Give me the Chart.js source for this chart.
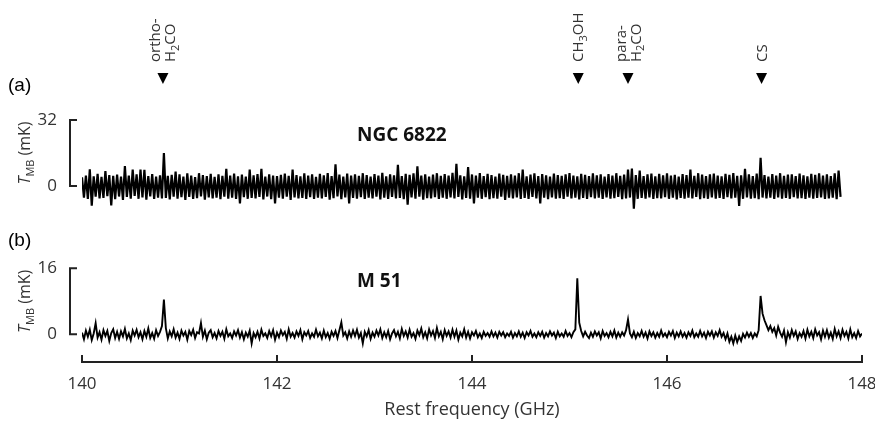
<!DOCTYPE html>
<html><head><meta charset="utf-8">
<script src="https://cdn.jsdelivr.net/npm/chart.js@4/dist/chart.umd.min.js"></script>
<style>
html,body{margin:0;padding:0;background:#fff;}
#wrap{position:relative;width:875px;height:424px;overflow:hidden;background:#fff;}
#ca{position:absolute;left:0;top:0;}
#cb{position:absolute;left:0;top:215px;}
</style></head><body>
<div id="wrap"><canvas id="ca" width="875" height="215"></canvas><canvas id="cb" width="875" height="209"></canvas></div>
<script>
// channel grid of the spectra (GHz)
const FREQ_START = 140.0;
const FREQ_STEP = 0.02;

// (a) NGC 6822 spectrum, T_MB in mK (140.00 ... 147.78 GHz)
const ngc6822 = [
4.2,-5.6,5.1,-6.3,8.1,-9.5,4.7,-5.2,5.9,-6.0,
4.4,-5.8,7.2,-4.9,5.3,-9.4,4.9,-6.4,5.5,-5.1,
4.6,-6.7,9.7,-5.3,5.0,-6.1,8.0,-4.8,5.6,-6.2,
8.0,-5.5,7.8,-6.6,4.8,-5.0,5.8,-6.3,4.5,-5.7,
5.2,-6.0,16.0,-5.8,4.9,-6.5,5.4,-5.2,7.0,-6.1,
5.7,-5.4,4.6,-6.8,6.1,-5.3,5.0,-6.2,4.3,-5.9,
6.2,-5.1,5.3,-6.6,4.8,-5.5,5.9,-6.0,4.4,-5.6,
5.6,-6.4,4.9,-5.2,8.3,-6.1,5.1,-5.7,6.0,-6.3,
4.7,-8.5,5.5,-5.4,4.5,-6.2,8.0,-5.8,5.2,-6.0,
5.8,-5.3,8.3,-6.5,4.6,-5.1,5.7,-6.4,5.0,-8.5,
4.8,-5.6,5.4,-6.1,6.0,-5.2,4.9,-6.7,8.0,-5.5,
5.3,-6.0,4.7,-5.8,6.1,-6.3,5.0,-5.4,5.6,-6.2,
4.4,-5.7,5.9,-6.0,5.2,-5.3,6.3,-6.6,4.8,-5.9,
10.5,-5.1,5.5,-6.4,4.6,-5.5,6.0,-8.5,5.1,-5.8,
5.7,-6.1,4.9,-5.4,6.2,-6.3,5.3,-5.6,4.5,-6.0,
5.8,-5.2,5.0,-6.5,6.4,-5.7,4.7,-6.2,5.6,-5.3,
5.2,-6.0,10.3,-5.8,4.8,-6.4,5.9,-9.0,5.4,-5.5,
6.1,-6.1,9.5,-5.2,5.0,-6.6,5.7,-5.9,4.6,-6.0,
5.5,-5.4,6.2,-6.3,4.9,-5.7,5.8,-6.2,5.1,-5.5,
6.4,-6.0,10.8,-5.3,5.2,-6.5,4.7,-5.8,9.2,-6.1,
5.6,-8.5,5.0,-5.6,6.3,-6.2,4.8,-5.4,5.9,-6.4,
5.3,-5.9,4.6,-6.1,6.0,-5.2,5.4,-6.7,4.9,-5.6,
5.7,-6.0,5.1,-5.5,6.2,-6.3,8.0,-5.8,4.7,-6.2,
5.5,-5.3,6.1,-6.0,4.8,-8.5,5.8,-5.7,5.2,-6.4,
4.6,-5.5,6.0,-6.1,5.3,-5.9,4.9,-6.3,5.7,-5.2,
6.3,-6.0,5.0,-5.6,4.7,-6.5,5.9,-5.8,5.4,-6.2,
4.8,-5.4,6.1,-6.0,5.2,-5.7,5.6,-6.3,4.5,-5.5,
5.8,-6.1,5.1,-5.9,6.2,-5.3,4.9,-6.4,5.5,-6.0,
8.0,-5.6,8.5,-11.0,5.3,-6.2,7.5,-5.8,4.8,-6.1,
5.6,-5.5,6.0,-6.3,4.7,-5.9,5.9,-6.0,5.2,-5.4,
6.1,-6.2,5.0,-5.7,5.4,-6.5,4.6,-5.8,5.8,-6.1,
5.3,-5.6,8.0,-6.0,4.9,-5.3,6.2,-6.4,5.5,-5.9,
4.8,-6.2,5.7,-5.5,6.0,-6.1,5.1,-5.8,4.7,-6.3,
5.9,-5.4,5.4,-6.0,6.3,-5.7,4.9,-9.7,5.2,-6.2,
8.3,-5.5,5.6,-6.1,4.8,-5.9,6.0,-6.4,13.7,-5.6,
5.3,-6.0,4.6,-5.7,5.8,-6.3,5.1,-5.5,6.2,-6.1,
4.9,-5.8,5.5,-6.2,5.7,-5.4,4.8,-6.0,6.0,-5.9,
5.2,-6.3,4.7,-5.6,5.9,-6.1,5.4,-5.8,6.1,-5.5,
5.0,-6.2,5.6,-6.0,4.8,-5.7,6.2,-6.4,7.5,-5.3
];

// (b) M 51 spectrum, T_MB in mK (140.00 ... 148.00 GHz)
const m51 = [
0.4,-1.2,0.9,-0.6,1.1,-1.4,0.2,2.7,-0.8,0.5,
-1.3,1.0,-0.4,0.8,-1.6,0.3,1.2,-0.9,0.6,-1.1,
0.7,-0.5,1.3,-1.0,0.2,-1.4,0.9,-0.3,1.1,-0.7,
0.5,-1.2,0.8,-0.6,1.4,-0.9,0.3,-1.1,1.0,-0.4,
0.6,2.0,8.4,1.5,-1.0,0.7,-0.5,1.2,-0.8,0.4,
-1.1,0.9,-0.3,0.6,-1.3,0.8,-0.2,1.1,-0.9,0.5,
0.2,2.7,-0.6,0.9,-1.2,0.4,1.0,-0.7,0.3,-1.0,
0.8,-0.4,0.6,-1.1,1.2,-0.5,0.2,-0.9,0.7,-0.3,
1.0,-0.8,0.5,-1.2,0.4,-0.6,0.9,-2.2,0.3,-0.7,
0.6,-1.0,1.1,-0.4,0.2,-0.9,0.8,-0.5,1.0,-1.3,
0.4,-0.7,0.9,-0.2,0.6,-1.1,1.2,-0.6,0.3,-0.8,
0.7,-0.4,1.0,-1.2,0.5,-0.3,0.8,-0.9,0.2,-0.6,
1.1,-0.5,0.4,-1.0,0.9,-0.7,0.3,-1.1,0.6,-0.4,
0.8,-0.9,1.0,2.9,-0.3,0.5,-1.0,0.7,-0.6,0.9,
-0.4,1.1,-0.8,0.3,-2.2,0.6,-0.5,1.0,-1.1,0.4,
-0.6,0.9,-0.3,1.2,-0.9,0.5,-0.7,0.8,-1.2,0.2,
1.0,-0.5,0.6,-1.0,1.3,-0.4,0.7,-0.8,1.1,-0.6,
0.3,-1.1,0.9,-0.2,1.4,-0.7,0.5,-1.0,1.2,-0.3,
0.8,-0.9,1.5,-0.5,0.6,-1.2,1.0,-0.4,0.7,-0.8,
1.1,-0.6,0.9,-1.3,0.4,-0.5,1.2,-0.8,0.6,-1.0,
0.5,-0.3,0.8,-0.7,0.2,-0.9,0.6,-0.4,0.3,-0.6,
0.7,-0.5,0.4,-0.8,0.6,-0.3,0.5,-0.7,0.2,-0.4,
0.6,-0.8,0.3,-0.5,0.7,-0.6,0.4,-0.9,0.5,-0.3,
0.8,-0.6,0.2,-0.7,0.5,-0.4,0.6,-0.8,0.3,-0.5,
0.7,-0.3,0.4,-0.9,0.6,-0.5,0.2,-0.6,0.8,-0.4,
0.3,-0.7,0.5,1.2,13.6,2.8,0.8,-0.5,0.6,-0.3,
-0.9,0.4,-0.6,0.7,-0.3,0.5,-1.0,0.8,-0.4,0.3,
-0.7,0.6,-0.5,0.9,-0.8,0.4,-0.6,0.5,-0.3,1.0,
3.6,0.2,-0.7,0.6,-0.9,0.3,-0.5,0.8,-0.6,0.4,
-1.0,0.7,-0.4,0.5,-0.8,0.3,-0.6,0.9,-0.5,0.2,
-0.7,0.6,-0.3,0.8,-0.9,0.4,-0.5,0.7,-0.6,0.3,
-0.8,0.5,-0.4,0.9,-0.7,0.2,-0.6,0.8,-0.5,0.4,
-0.9,0.6,-0.3,0.7,-0.8,0.5,-0.4,1.0,-0.6,0.3,
-1.2,0.2,-1.8,-0.6,-2.2,-0.3,-1.9,-0.5,-1.6,0.1,
-0.8,0.4,-0.6,0.3,-0.9,0.2,-0.5,1.0,9.3,5.0,
3.4,2.2,1.0,2.0,0.6,1.5,-0.3,1.8,0.4,-0.6,
0.9,-1.9,0.5,-0.8,1.0,-0.4,0.7,-1.1,0.3,-0.6,
0.8,-1.0,1.1,-0.5,0.6,-0.9,1.2,-0.3,0.5,-1.2,
0.9,-0.6,1.0,-0.8,0.4,-1.1,1.3,-0.5,0.7,-0.9,
1.1,-0.4,0.6,-1.0,1.2,-0.7,0.3,-0.9,0.8,-0.5,
0.2
];

// tick labels
const freqTicks = [140, 142, 144, 146, 148];
const ngcTicks = [0, 32];
const m51Ticks = [0, 16];

// identified lines (rest frequency, GHz) and their labels
const lineFreqs = [140.83, 145.09, 145.60, 146.97];
const lineNames = [['ortho-', 'H_2CO'], ['CH_3OH'], ['para-', 'H_2CO'], ['CS']];

// panel titles
const panelNames = ['NGC 6822', 'M 51'];
const panelLetters = ['(a)', '(b)'];

const FAM = "'Open Sans', sans-serif";
const TXT = '#333';

function toPoints(vals){ return vals.map((v,i)=>({x: FREQ_START + i*FREQ_STEP, y: v})); }

function richParts(s){
  const out=[]; const re=/_(\d)/g; let last=0, m;
  while((m=re.exec(s))){ if(m.index>last) out.push({t:s.slice(last,m.index)}); out.push({t:m[1],sub:true}); last=re.lastIndex; }
  if(last<s.length) out.push({t:s.slice(last)});
  return out;
}
function fontFor(p,size){
  const sz = p.sub ? Math.round(size*0.7) : size;
  return (p.it ? 'italic ' : 'normal ') + sz + 'px ' + FAM;
}
function measureRich(ctx,parts,size){ let w=0; for(const p of parts){ ctx.font=fontFor(p,size); w+=ctx.measureText(p.t).width; } return w; }
function drawRich(ctx,parts,x,y,size){ let cx=x; for(const p of parts){ ctx.font=fontFor(p,size); ctx.fillText(p.t,cx,y+(p.sub?size*0.25:0)); cx+=ctx.measureText(p.t).width; } }

function drawYBracket(chart, ticks){
  const ctx=chart.ctx, ys=chart.scales.y, left=chart.chartArea.left;
  const y0=ys.getPixelForValue(ticks[0]), y1=ys.getPixelForValue(ticks[ticks.length-1]);
  const x=left-12;
  ctx.save(); ctx.strokeStyle='#222'; ctx.lineWidth=2; ctx.lineCap='butt';
  ctx.beginPath(); ctx.moveTo(x+7,y1); ctx.lineTo(x,y1); ctx.lineTo(x,y0); ctx.lineTo(x+7,y0); ctx.stroke();
  ctx.restore();
}
function drawYTitle(chart, ticks){
  const ctx=chart.ctx, ys=chart.scales.y;
  const cy=(ys.getPixelForValue(ticks[0])+ys.getPixelForValue(ticks[ticks.length-1]))/2;
  const parts=[{t:'T',it:true},{t:'MB',sub:true},{t:' (mK)'}];
  ctx.save(); ctx.fillStyle=TXT; ctx.textAlign='left'; ctx.textBaseline='alphabetic';
  ctx.translate(25,cy); ctx.rotate(-Math.PI/2);
  const w=measureRich(ctx,parts,16);
  drawRich(ctx,parts,-w/2,5,16);
  ctx.restore();
}
function drawPanelText(chart, letter, letterY, name, nameY){
  const ctx=chart.ctx;
  ctx.save();
  ctx.fillStyle='#000'; ctx.textBaseline='middle'; ctx.textAlign='left';
  ctx.font="19px 'Liberation Sans', Arial, sans-serif";
  ctx.fillText(letter, 8, letterY);
  ctx.fillStyle='#111'; ctx.font='bold 19px '+FAM;
  ctx.fillText(name, 357, nameY);
  ctx.restore();
}
function zeroPad(s){ s.paddingLeft=0; s.paddingRight=0; s.paddingTop=0; s.paddingBottom=0; }

const overlayA = {
  id:'overlayA',
  afterDraw(chart){
    const ctx=chart.ctx, xs=chart.scales.x;
    drawYBracket(chart, ngcTicks);
    drawYTitle(chart, ngcTicks);
    drawPanelText(chart, panelLetters[0], 86, panelNames[0], 136);
    lineFreqs.forEach((f,k)=>{
      const mx=xs.getPixelForValue(f);
      ctx.save(); ctx.fillStyle='#000';
      ctx.beginPath(); ctx.moveTo(mx-5.5,73); ctx.lineTo(mx+5.5,73); ctx.lineTo(mx,84); ctx.closePath(); ctx.fill();
      ctx.restore();
      const lines=lineNames[k], n=lines.length;
      ctx.save(); ctx.fillStyle=TXT; ctx.textAlign='left'; ctx.textBaseline='alphabetic';
      ctx.translate(mx,62); ctx.rotate(-Math.PI/2);
      lines.forEach((s,j)=>{ drawRich(ctx, richParts(s), 0, 5-7.5*(n-1)+15*j, 15); });
      ctx.restore();
    });
  }
};
const overlayB = {
  id:'overlayB',
  afterDraw(chart){
    const ctx=chart.ctx, xs=chart.scales.x, ca=chart.chartArea;
    drawYBracket(chart, m51Ticks);
    drawYTitle(chart, m51Ticks);
    drawPanelText(chart, panelLetters[1], 26, panelNames[1], 67);
    const yb=ca.bottom;
    ctx.save(); ctx.strokeStyle='#222'; ctx.lineWidth=2;
    ctx.beginPath();
    ctx.moveTo(xs.getPixelForValue(freqTicks[0]),yb); ctx.lineTo(xs.getPixelForValue(freqTicks[freqTicks.length-1]),yb);
    freqTicks.forEach(v=>{ const px=xs.getPixelForValue(v); ctx.moveTo(px,yb+1); ctx.lineTo(px,yb-7); });
    ctx.stroke(); ctx.restore();
  }
};

const common = {
  responsive:false, animation:false, events:[],
  plugins:{legend:{display:false}, tooltip:{enabled:false}},
};

new Chart(document.getElementById('ca'), {
  type:'line',
  data:{datasets:[{data:toPoints(ngc6822), borderColor:'#000', borderWidth:2.2, pointRadius:0, tension:0, fill:false}]},
  options:Object.assign({}, common, {
    layout:{autoPadding:false, padding:{top:120,bottom:4.25,left:0,right:13}},
    scales:{
      x:{type:'linear', min:140, max:148, display:false, afterFit: zeroPad},
      y:{type:'linear', min:-12, max:32,
         afterFit(s){ s.width=82; zeroPad(s); },
         afterBuildTicks(s){ s.ticks=ngcTicks.map(v=>({value:v})); },
         grid:{display:false, drawTicks:false}, border:{display:false},
         ticks:{padding:25, font:{family:FAM,size:17}, color:TXT}}
    }
  }),
  plugins:[overlayA]
});

new Chart(document.getElementById('cb'), {
  type:'line',
  data:{datasets:[{data:toPoints(m51), borderColor:'#000', borderWidth:1.9, pointRadius:0, tension:0, fill:false}]},
  options:Object.assign({}, common, {
    layout:{autoPadding:false, padding:{top:53.3,bottom:0,left:0,right:13}},
    scales:{
      x:{type:'linear', min:140, max:148,
         afterFit(s){ s.height=62; zeroPad(s); },
         afterBuildTicks(s){ s.ticks=freqTicks.map(v=>({value:v})); },
         grid:{display:false, drawTicks:false}, border:{display:false},
         ticks:{padding:12, maxRotation:0, autoSkip:false, font:{family:FAM,size:17}, color:TXT},
         title:{display:true, text:'Rest frequency (GHz)', color:TXT, font:{family:FAM,size:18}, padding:{top:0,bottom:3}}},
      y:{type:'linear', min:-6.72, max:16,
         afterFit(s){ s.width=82; zeroPad(s); },
         afterBuildTicks(s){ s.ticks=m51Ticks.map(v=>({value:v})); },
         grid:{display:false, drawTicks:false}, border:{display:false},
         ticks:{padding:25, font:{family:FAM,size:17}, color:TXT}}
    }
  }),
  plugins:[overlayB]
});
</script>
</body></html>
